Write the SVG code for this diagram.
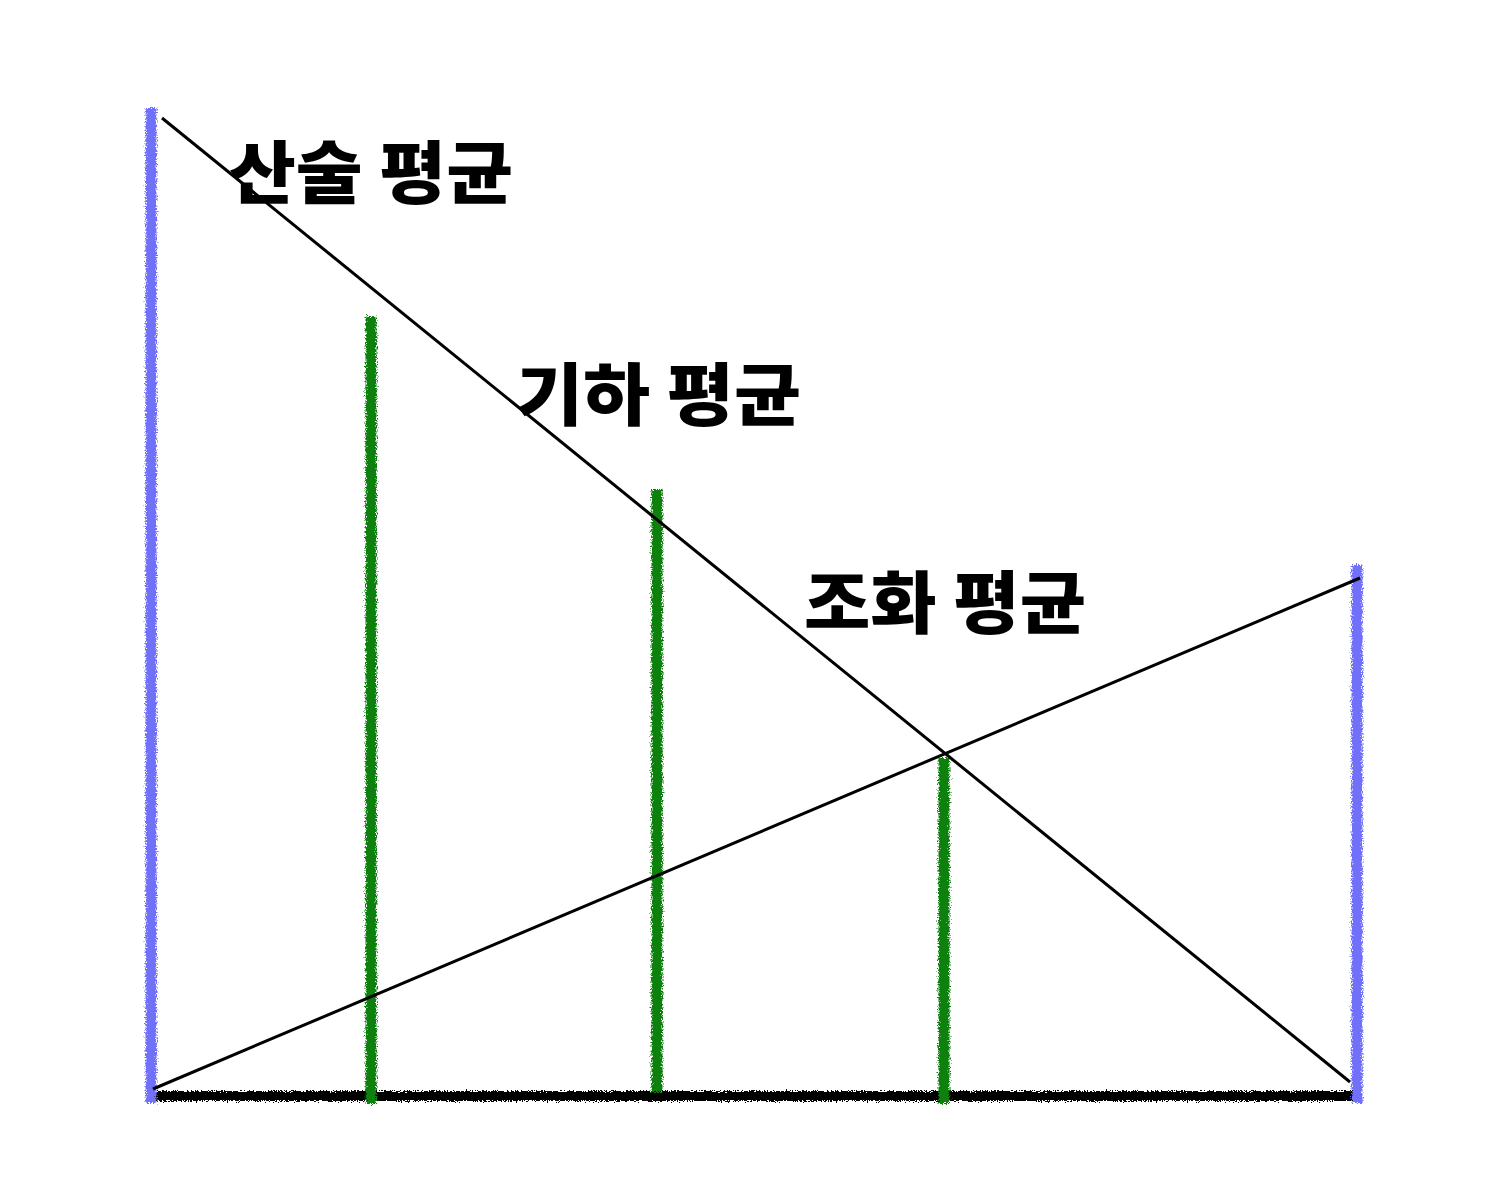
<svg xmlns="http://www.w3.org/2000/svg" width="1488" height="1200" viewBox="0 0 1488 1200">
<style>
.lbl{font-family:"Noto Sans CJK KR","Noto Sans CJK SC",sans-serif;font-weight:900;font-size:68px;fill:#000}
.crayon{fill:none;stroke-linecap:butt;filter:url(#rough)}
.blue{stroke:#6f6ff8;stroke-width:11}
.green{stroke:#0a800a;stroke-width:11}
.base{stroke:#000;stroke-width:10}
.thin{stroke:#000;stroke-width:3;fill:none}
</style>
<defs>
<filter id="rough" filterUnits="userSpaceOnUse" x="0" y="0" width="1488" height="1200">
<feTurbulence type="fractalNoise" baseFrequency="0.8" numOctaves="2" seed="3" result="n"/>
<feDisplacementMap in="SourceGraphic" in2="n" scale="7" xChannelSelector="R" yChannelSelector="G"/>
</filter>
</defs>
<g id="base-line"><line class="crayon base" x1="152" y1="1096" x2="1354" y2="1096"/></g>
<g id="bar-a"><line class="crayon blue" x1="151" y1="108" x2="151" y2="1103"/></g>
<g id="bar-b"><line class="crayon blue" x1="1357" y1="565" x2="1357" y2="1103"/></g>
<g id="am"><line class="crayon green" x1="371" y1="316" x2="371" y2="1104"/></g>
<g id="gm"><line class="crayon green" x1="657" y1="489" x2="657" y2="1092"/></g>
<g id="hm"><line class="crayon green" x1="944" y1="758" x2="944" y2="1104"/></g>
<g id="connectors">
<line class="thin" x1="162" y1="118" x2="1350" y2="1082"/>
<line class="thin" x1="153" y1="1089" x2="1360" y2="578"/>
</g>
<g id="label-am"><text class="lbl" x="229" y="198" textLength="284" lengthAdjust="spacingAndGlyphs">산술 평균</text></g>
<g id="label-gm"><text class="lbl" x="516" y="420" textLength="285" lengthAdjust="spacingAndGlyphs">기하 평균</text></g>
<g id="label-hm"><text class="lbl" x="804" y="628" textLength="282" lengthAdjust="spacingAndGlyphs">조화 평균</text></g>
</svg>
